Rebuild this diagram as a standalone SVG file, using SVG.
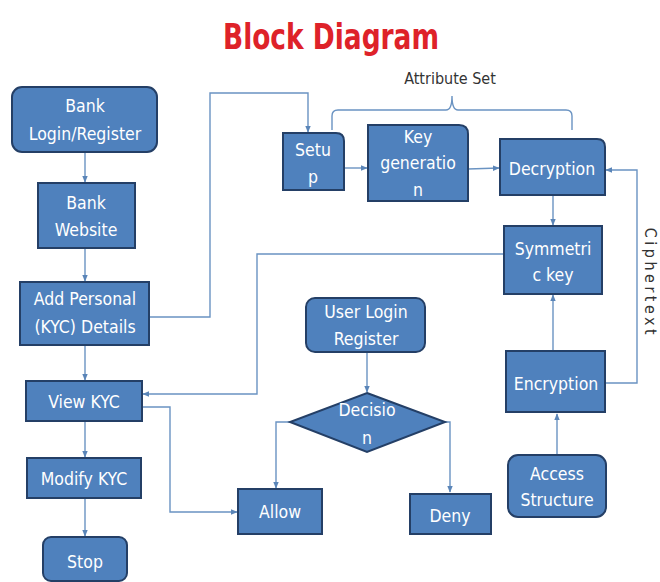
<svg xmlns="http://www.w3.org/2000/svg" width="660" height="582" viewBox="0 0 660 582">
<defs>
<marker id="ah" viewBox="0 0 10 10" refX="9" refY="5" markerWidth="7" markerHeight="7" orient="auto" markerUnits="userSpaceOnUse">
<path d="M0,1 L10,5 L0,9 Z" fill="#5a85b8"/>
</marker>
<style>
.n{fill:#4f81bd;stroke:#243f66;stroke-width:2}
.t{fill:#ffffff;font-family:"DejaVu Sans Condensed","DejaVu Sans",sans-serif;font-size:17.5px;text-anchor:middle;dominant-baseline:central}
.c{fill:none;stroke:#6a93c2;stroke-width:1.4}
.a{marker-end:url(#ah)}
.lbl{fill:#333333;font-family:"DejaVu Sans Condensed","DejaVu Sans",sans-serif;font-size:16px;text-anchor:middle;dominant-baseline:central}
</style>
</defs>
<rect width="660" height="582" fill="#ffffff"/>
<text x="331" y="36" fill="#de2229" font-family="DejaVu Sans Condensed, DejaVu Sans, sans-serif" font-weight="bold" font-size="36" text-anchor="middle" dominant-baseline="central" textLength="216" lengthAdjust="spacingAndGlyphs">Block Diagram</text>

<g id="connectors">
<path class="c a" d="M85,152 V182"/>
<path class="c a" d="M85,248 V281"/>
<path class="c a" d="M85,345 V380"/>
<path class="c a" d="M85,421 V457"/>
<path class="c a" d="M85,498 V536"/>
<path class="c a" d="M149,317 H210 V93 H308 V132"/>
<path class="c a" d="M344,168 H367"/>
<path class="c a" d="M468,169 L499,168"/>
<path class="c a" d="M553,195 V225"/>
<path class="c a" d="M504,254 H257 V394 H143"/>
<path class="c a" d="M553,351 V295"/>
<path class="c a" d="M557,455 V414"/>
<path class="c a" d="M605,383 H637 V170 H606"/>
<path class="c a" d="M142,407 H170 V512 H237"/>
<path class="c a" d="M367,352 V392"/>
<path class="c a" d="M290,422 H276 V488"/>
<path class="c a" d="M445,422 H450 V492"/>
<path class="c" d="M332,130 V116 Q332,110 338,110 H446 Q452,110 452,96 Q452,110 458,110 H566 Q572,110 572,116 V130"/>
</g>
<text class="lbl" x="450" y="78">Attribute Set</text>
<text class="lbl" transform="translate(650,283) rotate(90)" letter-spacing="3.5">Ciphertext</text>

<g id="bank-login"><rect class="n" x="12" y="87" width="145" height="65" rx="10"/><text class="t" x="85" y="106">Bank</text><text class="t" x="85" y="134">Login/Register</text></g>
<g id="bank-website"><rect class="n" x="38" y="183" width="97" height="65"/><text class="t" x="86" y="203">Bank</text><text class="t" x="86" y="230">Website</text></g>
<g id="add-personal"><rect class="n" x="20" y="282" width="129" height="63"/><text class="t" x="85" y="299">Add Personal</text><text class="t" x="85" y="327">(KYC) Details</text></g>
<g id="view-kyc"><rect class="n" x="26" y="381" width="116" height="40"/><text class="t" x="84" y="402">View KYC</text></g>
<g id="modify-kyc"><rect class="n" x="27" y="458" width="114" height="40"/><text class="t" x="84" y="479">Modify KYC</text></g>
<g id="stop"><rect class="n" x="43" y="537" width="84" height="44" rx="8"/><text class="t" x="85" y="562">Stop</text></g>
<g id="setup"><path class="n" d="M283,133 H336 Q344,133 344,141 V190 H283 Z"/><text class="t" x="313" y="150">Setu</text><text class="t" x="313" y="177">p</text></g>
<g id="key-generation"><path class="n" d="M368,125 H459 Q468,125 468,134 V201 H368 Z"/><text class="t" x="418" y="137">Key</text><text class="t" x="418" y="163">generatio</text><text class="t" x="418" y="190">n</text></g>
<g id="decryption"><path class="n" d="M500,139 H597 Q605,139 605,147 V195 H500 Z"/><text class="t" x="552" y="169">Decryption</text></g>
<g id="symmetric-key"><rect class="n" x="504" y="226" width="98" height="68"/><text class="t" x="553" y="249">Symmetri</text><text class="t" x="553" y="275">c key</text></g>
<g id="encryption"><rect class="n" x="506" y="351" width="99" height="61"/><text class="t" x="556" y="384">Encryption</text></g>
<g id="access-structure"><rect class="n" x="508" y="455" width="98" height="62" rx="10"/><text class="t" x="557" y="474">Access</text><text class="t" x="557" y="500">Structure</text></g>
<g id="user-login"><rect class="n" x="306" y="298" width="119" height="54" rx="9"/><text class="t" x="366" y="312">User Login</text><text class="t" x="366" y="339">Register</text></g>
<g id="decision"><path class="n" d="M367,393 L445,422 L367,452 L290,422 Z"/><text class="t" x="367" y="410">Decisio</text><text class="t" x="367" y="438">n</text></g>
<g id="allow"><rect class="n" x="238" y="489" width="84" height="45"/><text class="t" x="280" y="512">Allow</text></g>
<g id="deny"><rect class="n" x="410" y="494" width="81" height="40"/><text class="t" x="450" y="516">Deny</text></g>
</svg>
